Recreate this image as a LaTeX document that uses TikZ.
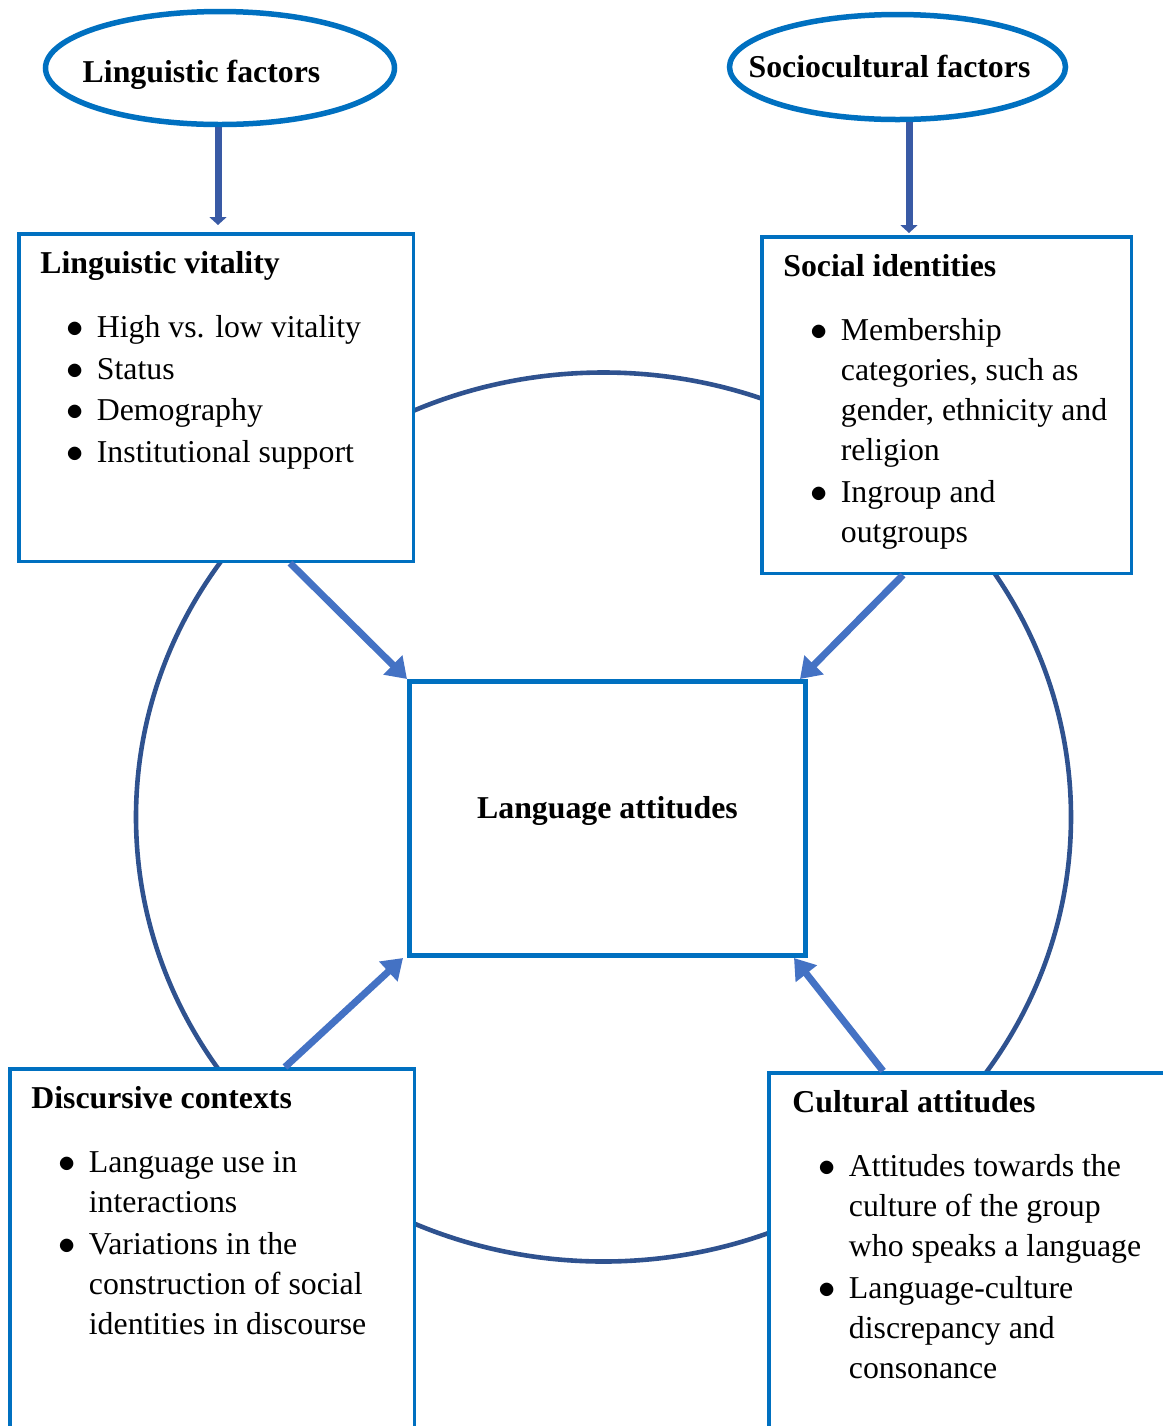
\documentclass[tikz,border=0pt]{standalone}
\usepackage{fontspec}
\setmainfont{Liberation Serif}
\usetikzlibrary{shapes.geometric, arrows.meta, positioning}

\definecolor{boxblue}{RGB}{0,112,192}
\definecolor{arrowblue}{RGB}{68,114,196}
\definecolor{ringblue}{RGB}{47,82,143}
\definecolor{dropblue}{RGB}{57,90,165}

\newcommand{\dotmark}{\makebox[15.25pt][l]{$\bullet$}}

\begin{document}
\begin{tikzpicture}[x=0.5pt, y=-0.5pt, font=\fontsize{15.9}{20}\selectfont,
    factor/.style={ellipse, draw=boxblue, line width=2.75pt, inner sep=0pt},
    box/.style={rectangle, draw=boxblue, line width=1.75pt, fill=white, inner sep=0pt},
    head/.style={anchor=base west, inner sep=0pt, font=\fontsize{15.9}{20}\selectfont\bfseries},
    items/.style={anchor=base west, inner sep=0pt},
    feed/.style={draw=arrowblue, line width=3.5pt, -{Triangle[length=10pt,width=13pt]}},
    drop/.style={draw=dropblue, line width=3.5pt, -{Triangle[length=4pt,width=8.5pt]}}]

    \useasboundingbox (0,0) rectangle (1163,1426);
    \clip (0,0) rectangle (1163,1426);

    % the big cycle behind the boxes
    \node[ellipse, draw=ringblue, line width=2.3pt, inner sep=0pt,
          minimum width=467.5pt, minimum height=444.5pt] (cycle) at (603.5,817) {};

    % factors on top
    \node[factor, minimum width=174.5pt, minimum height=56.5pt] (lf) at (220,68) {};
    \node[factor, minimum width=168pt, minimum height=52.5pt] (sf) at (897.5,67) {};
    \node[head, anchor=base] (lfT) at ([xshift=-9.25pt, yshift=-7pt]lf.center) {Linguistic factors};
    \node[head, anchor=base] (sfT) at ([xshift=-4pt, yshift=-5pt]sf.center) {Sociocultural factors};

    % boxes
    \node[box, minimum width=197.25pt, minimum height=163.75pt] (lv) at (216,397.5) {};
    \node[box, minimum width=184.75pt, minimum height=168.25pt] (si) at (946.5,405) {};
    \node[box, line width=2.5pt, minimum width=198pt, minimum height=137pt] (la) at (607.5,818.5) {};
    \node[box, minimum width=202.25pt, minimum height=215.6pt] (dc) at (212,1284.4) {};
    \node[box, minimum width=215.6pt, minimum height=213.6pt] (ca) at (984.4,1286.4) {};

    % centre
    \node[head, anchor=base] (laT) at (la.center) {Language attitudes};

    % linguistic vitality
    \node[head] (lvT) at ([xshift=11.5pt, yshift=-20.75pt]lv.north west) {Linguistic vitality};
    \node[items] (lvL) at ([xshift=24.5pt, yshift=-52.75pt]lv.north west) {%
      \begin{tabular}[t]{@{}l@{}l@{}}
        \dotmark & High vs. low vitality\\[0.85pt]
        \dotmark & Status\\[0.85pt]
        \dotmark & Demography\\[0.85pt]
        \dotmark & Institutional support
      \end{tabular}};

    % social identities
    \node[head] (siT) at ([xshift=11.5pt, yshift=-20.75pt]si.north west) {Social identities};
    \node[items] (siL) at ([xshift=25pt, yshift=-52.75pt]si.north west) {%
      \begin{tabular}[t]{@{}l@{}l@{}}
        \dotmark & Membership\\
                 & categories, such as\\
                 & gender, ethnicity and\\
                 & religion\\[1pt]
        \dotmark & Ingroup and\\
                 & outgroups
      \end{tabular}};

    % discursive contexts
    \node[head] (dcT) at ([xshift=11.5pt, yshift=-20.75pt]dc.north west) {Discursive contexts};
    \node[items] (dcL) at ([xshift=25pt, yshift=-52.75pt]dc.north west) {%
      \begin{tabular}[t]{@{}l@{}l@{}}
        \dotmark & Language use in\\
                 & interactions\\[1pt]
        \dotmark & Variations in the\\
                 & construction of social\\
                 & identities in discourse
      \end{tabular}};

    % cultural attitudes
    \node[head] (caT) at ([xshift=12.5pt, yshift=-20.75pt]ca.north west) {Cultural attitudes};
    \node[items] (caL) at ([xshift=25.5pt, yshift=-52.75pt]ca.north west) {%
      \begin{tabular}[t]{@{}l@{}l@{}}
        \dotmark & Attitudes towards the\\
                 & culture of the group\\
                 & who speaks a language\\[1pt]
        \dotmark & Language-culture\\
                 & discrepancy and\\
                 & consonance
      \end{tabular}};

    % factors feed the top boxes
    \draw[drop] ([xshift=-1pt]lf.south) -- ([xshift=1pt, yshift=3.5pt]lv.north);
    \draw[drop] ([xshift=5.75pt]sf.south) -- ([xshift=-18.75pt, yshift=1pt]si.north);

    % boxes feed the centre
    \draw[feed] ([xshift=37pt]lv.south) -- (la.north west);
    \draw[feed] ([xshift=-21.75pt]si.south) -- ([xshift=-4pt]la.north east);
    \draw[feed] ([xshift=36.5pt]dc.north) -- ([xshift=-2pt]la.south west);
    \draw[feed] ([xshift=58pt]ca.north west) -- ([xshift=-7pt]la.south east);
\end{tikzpicture}
\end{document}
